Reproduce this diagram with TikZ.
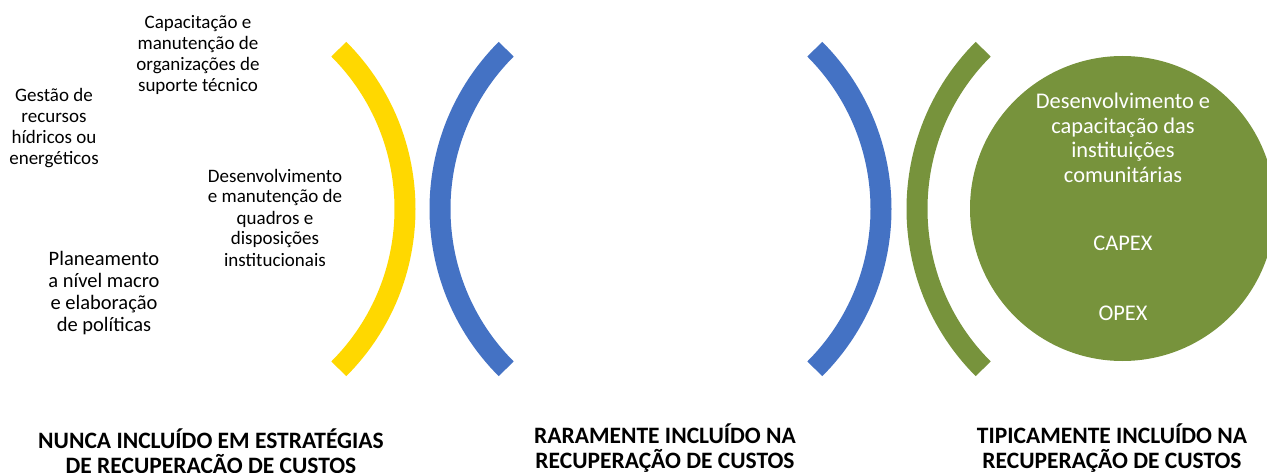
\documentclass[tikz,border=0pt]{standalone}
\usepackage{fontspec}
\setmainfont{Carlito}
\definecolor{ygold}{HTML}{FFD800}
\definecolor{oblue}{HTML}{4472C4}
\definecolor{ogreen}{HTML}{77933C}
\begin{document}
\begin{tikzpicture}[x=1pt,y=-1pt,
  band/.style={line width=21pt,line cap=butt},
  lbl/.style={align=center,inner sep=0pt,font=\fontsize{19}{21}\selectfont,anchor=base},
  wlbl/.style={align=center,inner sep=0pt,text=white,font=\fontsize{22.4}{24.5}\selectfont,anchor=base},
  catlbl/.style={align=center,inner sep=0pt,font=\bfseries\fontsize{23.5}{25}\selectfont,anchor=base}]
\useasboundingbox (0,0) rectangle (1267,473);
\clip (0,0) rectangle (1267,473);
% arcs
\draw[band,ygold] ([shift={(-45:226)}]179,209) arc[start angle=-45,end angle=45,radius=226];
\draw[band,oblue] ([shift={(135:226)}]666,209) arc[start angle=135,end angle=225,radius=226];
\draw[band,oblue] ([shift={(-45:226)}]655,209) arc[start angle=-45,end angle=45,radius=226];
\draw[band,ogreen] ([shift={(135:226)}]1143,209) arc[start angle=135,end angle=225,radius=226];
\fill[ogreen] (1122.5,208.5) circle[radius=152.5];
% texts (anchor = baseline of last line)
\node[lbl] (cap1) at (198,92) {Capacitação e\\manutenção de\\organizações de\\suporte técnico};
\node[lbl] (gest) at (54,165) {Gestão de\\recursos\\hídricos ou\\energéticos};
\node[lbl] (dese) at (275,266) {Desenvolvimento\\e manutenção de\\quadros e\\disposições\\institucionais};
\node[lbl,font=\fontsize{20.5}{22}\selectfont] (plan) at (104,331) {Planeamento\\a nível macro\\e elaboração\\de políticas};
\node[wlbl] (circ) at (1123,182.5) {Desenvolvimento e\\capacitação das\\instituições\\comunitárias};
\node[wlbl] (capex) at (1123,251) {CAPEX};
\node[wlbl] (opex) at (1123,320) {OPEX};
\node[catlbl] (never) at (211,473) {NUNCA INCLUÍDO EM ESTRATÉGIAS\\DE RECUPERAÇÃO DE CUSTOS};
\node[catlbl] (rare) at (665,468) {RARAMENTE INCLUÍDO NA\\RECUPERAÇÃO DE CUSTOS};
\node[catlbl] (typ) at (1112,468) {TIPICAMENTE INCLUÍDO NA\\RECUPERAÇÃO DE CUSTOS};
\end{tikzpicture}
\end{document}
